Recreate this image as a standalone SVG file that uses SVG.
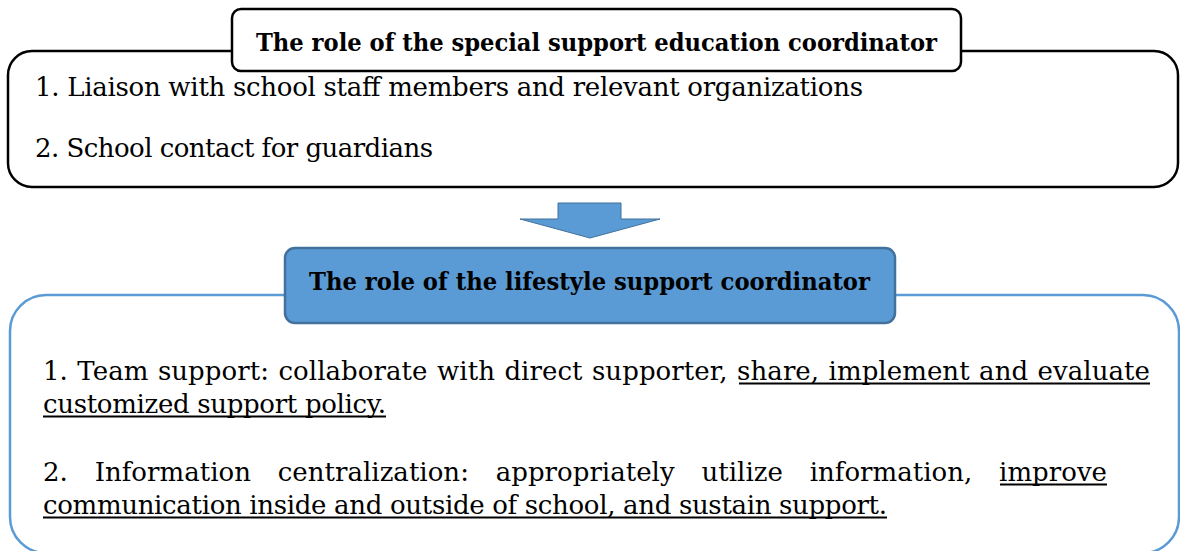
<svg xmlns="http://www.w3.org/2000/svg" width="1180" height="551" viewBox="0 0 1180 551">
<style>
.body{font-family:"DejaVu Serif","Liberation Serif",serif;font-size:26px;fill:#000}
.title{font-family:"DejaVu Serif","Liberation Serif",serif;font-size:25px;font-weight:bold;fill:#000}
.ul{stroke:#000;stroke-width:1.8}
.bk{fill:#fff;stroke:#000;stroke-width:2.5}
.blue{fill:#5B9BD5;stroke:#41719C}
</style>
<rect width="1180" height="551" fill="#fff"/>
<g id="special-support-coordinator">
  <rect class="bk" x="8" y="51" width="1170" height="136" rx="24"/>
  <rect class="bk" x="232" y="9" width="729" height="62" rx="9"/>
  <text class="title" x="256" y="51" textLength="681" lengthAdjust="spacingAndGlyphs">The role of the special support education coordinator</text>
  <text class="body" x="35" y="96" textLength="828" lengthAdjust="spacing">1. Liaison with school staff members and relevant organizations</text>
  <text class="body" x="35" y="157" textLength="398" lengthAdjust="spacing">2. School contact for guardians</text>
</g>
<g id="connectors">
  <polygon class="blue" stroke-width="1" points="558,203 621,203 621,219 660,219 590,238 520,219 558,219"/>
</g>
<g id="lifestyle-support-coordinator">
  <rect x="10" y="295" width="1169" height="258" rx="36" fill="#fff" stroke="#5B9BD5" stroke-width="2.5"/>
  <rect class="blue" stroke-width="2.5" x="285" y="248" width="610" height="75" rx="10"/>
  <text class="title" x="309" y="290" textLength="561" lengthAdjust="spacingAndGlyphs">The role of the lifestyle support coordinator</text>
  <text class="body" x="43" y="380" word-spacing="1.1" textLength="1107" lengthAdjust="spacing">1. Team support: collaborate with direct supporter, share, implement and evaluate</text>
  <text class="body" x="43" y="413" textLength="343" lengthAdjust="spacing">customized support policy.</text>
  <text class="body" x="43" y="481" word-spacing="18.5" textLength="1064" lengthAdjust="spacing">2. Information centralization: appropriately utilize information, improve</text>
  <text class="body" x="43" y="514" textLength="844" lengthAdjust="spacing">communication inside and outside of school, and sustain support.</text>
  <line class="ul" x1="739" y1="383.5" x2="1150" y2="383.5"/>
  <line class="ul" x1="43" y1="416.5" x2="386" y2="416.5"/>
  <line class="ul" x1="1000" y1="484.5" x2="1107" y2="484.5"/>
  <line class="ul" x1="43" y1="517.5" x2="887" y2="517.5"/>
</g>
</svg>
